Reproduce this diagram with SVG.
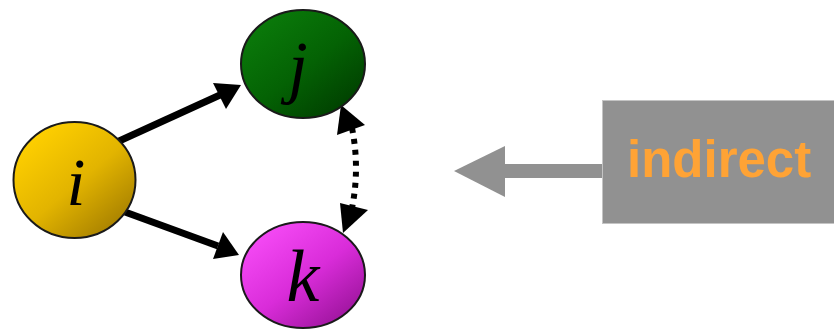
<svg xmlns="http://www.w3.org/2000/svg" width="834" height="331" viewBox="0 0 834 331">
  <style>
    .node { stroke: #1a1a1a; stroke-width: 2; }
    .label { font-family: "Liberation Serif", "DejaVu Serif", serif; font-style: italic; fill: #000; text-anchor: middle; }
    .edge { stroke: #000; stroke-width: 7; fill: none; }
    .dotted { stroke: #000; stroke-width: 6; fill: none; stroke-dasharray: 5 6; }
    .hint { fill: #919191; }
  </style>
  <defs>
    <linearGradient id="gradI" x1="0.15" y1="0.1" x2="0.9" y2="0.95">
      <stop offset="0" stop-color="#ffd000"/>
      <stop offset="0.5" stop-color="#e2b400"/>
      <stop offset="1" stop-color="#a07a00"/>
    </linearGradient>
    <linearGradient id="gradJ" x1="0.15" y1="0.1" x2="0.9" y2="0.95">
      <stop offset="0" stop-color="#0a7a0a"/>
      <stop offset="0.5" stop-color="#046204"/>
      <stop offset="1" stop-color="#003c00"/>
    </linearGradient>
    <linearGradient id="gradK" x1="0.15" y1="0.1" x2="0.9" y2="0.95">
      <stop offset="0" stop-color="#f54af5"/>
      <stop offset="0.5" stop-color="#d92cd9"/>
      <stop offset="1" stop-color="#961296"/>
    </linearGradient>
  </defs>

  <!-- connectors -->
  <g id="connectors">
    <!-- i to j -->
    <line class="edge" x1="117" y1="142" x2="220" y2="95"/>
    <polygon points="241,85 213,83 226,109" fill="#000"/>
    <!-- i to k -->
    <line class="edge" x1="125" y1="212" x2="218" y2="246"/>
    <polygon points="239,255 213,259 223,232" fill="#000"/>
    <!-- j and k, dotted two-way -->
    <path class="dotted" d="M352,128 Q360,168 352,208"/>
    <polygon points="341,105 365,125 337,135" fill="#000"/>
    <polygon points="343,233 340,203 368,210" fill="#000"/>
    <!-- grey pointer from the label box -->
    <rect class="hint" x="505" y="164" width="98" height="14"/>
    <polygon class="hint" points="454,171 505,146 505,197"/>
  </g>

  <g id="node-i">
    <ellipse class="node" cx="74.5" cy="180" rx="61" ry="58" fill="url(#gradI)"/>
    <text class="label" x="76" y="205" font-size="68">i</text>
  </g>
  <g id="node-j">
    <ellipse class="node" cx="303" cy="64" rx="62" ry="54" fill="url(#gradJ)"/>
    <text class="label" x="298" y="90" font-size="70">j</text>
  </g>
  <g id="node-k">
    <ellipse class="node" cx="303" cy="275" rx="62" ry="53" fill="url(#gradK)"/>
    <text class="label" x="303" y="301" font-size="74">k</text>
  </g>

  <g id="label-indirect">
    <rect x="602.5" y="100.5" width="240" height="123" fill="#919191" stroke="#c4c4c4" stroke-width="1"/>
    <text x="627" y="177" font-family="Liberation Sans, Arial, sans-serif" font-weight="bold" font-size="51" fill="#ffa335">indirect</text>
  </g>
</svg>
